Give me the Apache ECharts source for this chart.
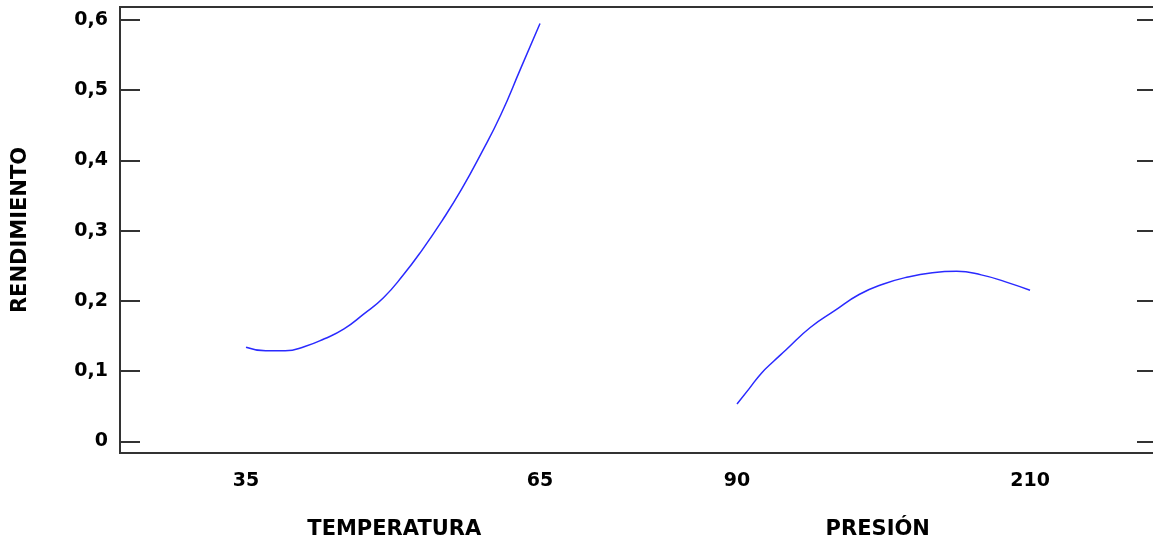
<!DOCTYPE html>
<html>
<head>
<meta charset="utf-8">
<script src="https://cdn.jsdelivr.net/npm/echarts@6/dist/echarts.min.js"></script>
<style>html,body{margin:0;padding:0;background:#fff}#c{width:1153px;height:544px}</style>
</head>
<body>
<div id="c"></div>
<script>
// Data
const tempX = [35, 37, 39, 41, 43, 45, 47, 49, 51, 53, 55, 57, 59, 61, 63, 65];
const tempY = [0.134, 0.129, 0.129, 0.135, 0.146, 0.160, 0.181, 0.204, 0.236, 0.273, 0.314, 0.359, 0.410, 0.465, 0.530, 0.595];
const presX = [90, 95, 100, 105, 110, 120, 130, 140, 150, 160, 170, 180, 190, 200, 210];
const presY = [0.053, 0.075, 0.097, 0.114, 0.130, 0.162, 0.186, 0.209, 0.224, 0.234, 0.240, 0.242, 0.237, 0.227, 0.215];
const tempTicks = [35, 65];
const presTicks = [90, 210];
const yTicks = [0, 0.1, 0.2, 0.3, 0.4, 0.5, 0.6];
const yName = 'RENDIMIENTO';
const tempName = 'TEMPERATURA';
const presName = 'PRESIÓN';

const FONT = 'DejaVu Sans';
const Y_MIN = -0.0167, Y_MAX = 0.6185;
const frameColor = '#333';

const chart = echarts.init(document.getElementById('c'), null, {renderer: 'canvas'});
const lblFmt = v => (Math.abs(v) < 1e-9 ? '0' : v.toFixed(1).replace('.', ','));

const hiddenY = gi => ({type: 'value', gridIndex: gi, min: Y_MIN, max: Y_MAX, show: false});

chart.setOption({
  animation: false,
  grid: [
    {left: 120, top: 7, width: 1037, height: 446, show: true, borderColor: frameColor, borderWidth: 2, backgroundColor: 'transparent', outerBoundsMode: 'none', containLabel: false},
    {left: 120, top: 7, width: 518.5, height: 446, outerBoundsMode: 'none', containLabel: false},
    {left: 638.5, top: 7, width: 518.5, height: 446, outerBoundsMode: 'none', containLabel: false}
  ],
  xAxis: [
    {type: 'value', gridIndex: 0, show: false, min: 0, max: 1},
    {type: 'value', gridIndex: 1, min: 22.14, max: 75.05,
      name: tempName, nameLocation: 'middle', nameGap: 66,
      nameTextStyle: {fontFamily: FONT, fontWeight: 'bold', fontSize: 21, color: '#000', padding: [0, 0, 0, 30]},
      axisLine: {show: false}, axisTick: {show: false}, splitLine: {show: false},
      axisLabel: {customValues: tempTicks, margin: 19, fontFamily: FONT, fontWeight: 'bold', fontSize: 19, color: '#000'}},
    {type: 'value', gridIndex: 2, min: 49.66, max: 262.0,
      name: presName, nameLocation: 'middle', nameGap: 66,
      nameTextStyle: {fontFamily: FONT, fontWeight: 'bold', fontSize: 21, color: '#000', padding: [0, 40, 0, 0]},
      axisLine: {show: false}, axisTick: {show: false}, splitLine: {show: false},
      axisLabel: {customValues: presTicks, margin: 19, fontFamily: FONT, fontWeight: 'bold', fontSize: 19, color: '#000'}}
  ],
  yAxis: [
    {type: 'value', gridIndex: 0, position: 'left', min: Y_MIN, max: Y_MAX,
      name: yName, nameLocation: 'middle', nameGap: 89,
      nameTextStyle: {fontFamily: FONT, fontWeight: 'bold', fontSize: 21, color: '#000'},
      axisLine: {show: false}, splitLine: {show: false},
      axisTick: {show: true, inside: true, length: 20, customValues: yTicks, lineStyle: {color: frameColor, width: 2}},
      axisLabel: {customValues: yTicks, formatter: lblFmt, margin: 12, fontFamily: FONT, fontWeight: 'bold', fontSize: 19, color: '#000'}},
    {type: 'value', gridIndex: 0, position: 'right', min: Y_MIN, max: Y_MAX,
      axisLine: {show: false}, splitLine: {show: false},
      axisTick: {show: true, inside: true, length: 20, customValues: yTicks, lineStyle: {color: frameColor, width: 2}},
      axisLabel: {show: false}},
    hiddenY(1),
    hiddenY(2)
  ],
  series: [
    {type: 'line', xAxisIndex: 1, yAxisIndex: 2, data: tempX.map((x, i) => [x, tempY[i]]),
      smooth: true, showSymbol: false, lineStyle: {color: '#2a2aff', width: 1.5}},
    {type: 'line', xAxisIndex: 2, yAxisIndex: 3, data: presX.map((x, i) => [x, presY[i]]),
      smooth: true, showSymbol: false, lineStyle: {color: '#2a2aff', width: 1.5}}
  ]
});
</script>
</body>
</html>
